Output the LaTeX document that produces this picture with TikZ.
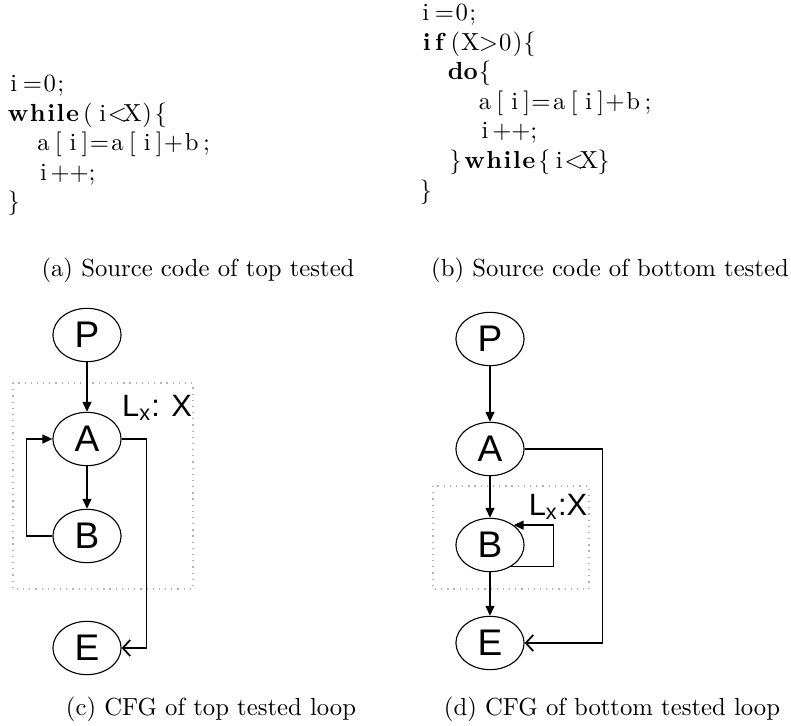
\documentclass[tikz,border=0pt]{standalone}
\usepackage{fontspec}
\newfontfamily\gfont{Liberation Sans}
\usetikzlibrary{arrows.meta,shapes.geometric}
\newlength\lcw
\setlength\lcw{6pt}
\newcommand\lstk[2]{\hbox to #1\lcw{\hss#2\hss}}
\begin{document}
\begin{tikzpicture}[x=0.405pt,y=-0.405pt,
  codeline/.style={inner sep=0pt,anchor=base west,font=\fontsize{10}{12}\selectfont},
  capt/.style={inner sep=0pt,anchor=base,font=\fontsize{10}{12}\selectfont},
  vtx/.style={ellipse,draw,line width=0.45pt,inner sep=0pt,minimum width=27.6pt,minimum height=21.6pt,font=\gfont\fontsize{15}{18}\selectfont},
  edge/.style={line width=0.55pt,-{Triangle[length=4pt,width=3.6pt]}},
  exitedge/.style={line width=0.55pt,-{Straight Barb[length=3pt,width=6.5pt,line width=0.7pt]}},
  loopbox/.style={draw=black!30,dotted,line width=0.5pt},
  looplbl/.style={inner sep=0pt,font=\gfont\fontsize{12.5}{15}\selectfont}]
\useasboundingbox (0,0) rectangle (791,726);
% ---- code (a)
\node[codeline] (a1) at (6,91.5) {\lstk1{i}\lstk3{=\hss0\hss;}};
\node[codeline] (a2) at (6,121.1) {\lstk5{\bfseries w\hss h\hss i\hss l\hss e}\lstk1{(}\lstk1{i}\lstk1{<}\lstk1{X}\lstk2{)\hss\{}};
\node[codeline] (a3) at (35.6,150.7) {\lstk1{a}\lstk1{[}\lstk1{i}\lstk2{]\hss=}\lstk1{a}\lstk1{[}\lstk1{i}\lstk2{]\hss+}\lstk1{b}\lstk1{;}};
\node[codeline] (a4) at (35.6,180.3) {\lstk1{i}\lstk3{+\hss+\hss;}};
\node[codeline] (a5) at (6,209.9) {\lstk1{\}}};
% ---- code (b)
\node[codeline] (b1) at (418,20.5) {\lstk1{i}\lstk3{=\hss0\hss;}};
\node[codeline] (b2) at (418,50.1) {\lstk2{\bfseries i\hss f}\lstk1{(}\lstk1{X}\lstk4{>\hss0\hss)\hss\{}};
\node[codeline] (b3) at (447.6,79.7) {\lstk2{\bfseries d\hss o}\lstk1{\{}};
\node[codeline] (b4) at (477.2,109.3) {\lstk1{a}\lstk1{[}\lstk1{i}\lstk2{]\hss=}\lstk1{a}\lstk1{[}\lstk1{i}\lstk2{]\hss+}\lstk1{b}\lstk1{;}};
\node[codeline] (b5) at (477.2,138.9) {\lstk1{i}\lstk3{+\hss+\hss;}};
\node[codeline] (b6) at (447.6,168.5) {\lstk1{\}}\lstk5{\bfseries w\hss h\hss i\hss l\hss e}\lstk1{\{}\lstk1{i}\lstk1{<}\lstk1{X}\lstk1{\}}};
\node[codeline] (b7) at (418,198.1) {\lstk1{\}}};
% ---- captions
\node[capt] (capa) at (198,277) {(a) Source code of top tested};
\node[capt] (capb) at (610,277) {(b) Source code of bottom tested};
\node[capt] (capc) at (211,716) {(c) CFG of top tested loop};
\node[capt] (capd) at (612,716) {(d) CFG of bottom tested loop};
% ---- CFG (c)
\draw[loopbox] (13,383) rectangle (193,589);
\node[vtx] (P1) at (87,335) {P};
\node[vtx] (A1) at (87,439) {A};
\node[vtx] (B1) at (87,536) {B};
\node[vtx] (E1) at (87,648) {E};
\node[looplbl] (L1) at (157,408) {L\textsubscript{x}: X};
\draw[edge] (P1) -- (A1);
\draw[edge] (A1) -- (B1);
\draw[edge] (B1.west) -- ++(-26,0) |- (A1.west);
\draw[exitedge] (A1.east) -- ++(25,0) |- (E1.east);
% ---- CFG (d)
\draw[loopbox] (433,486) rectangle (589,589);
\node[vtx] (P2) at (490,339) {P};
\node[vtx] (A2) at (490,449) {A};
\node[vtx] (B2) at (490,545) {B};
\node[vtx] (E2) at (490,643) {E};
\node[looplbl] (L2) at (558,507) {L\textsubscript{x}:X};
\draw[edge] (P2) -- (A2);
\draw[edge] (A2) -- (B2);
\draw[edge] (B2) -- (E2);
\draw[edge] (B2.-45) -- ++(42,0) |- (B2.40);
\draw[exitedge] (A2.east) -- ++(78,0) |- (E2.east);
\end{tikzpicture}
\end{document}
